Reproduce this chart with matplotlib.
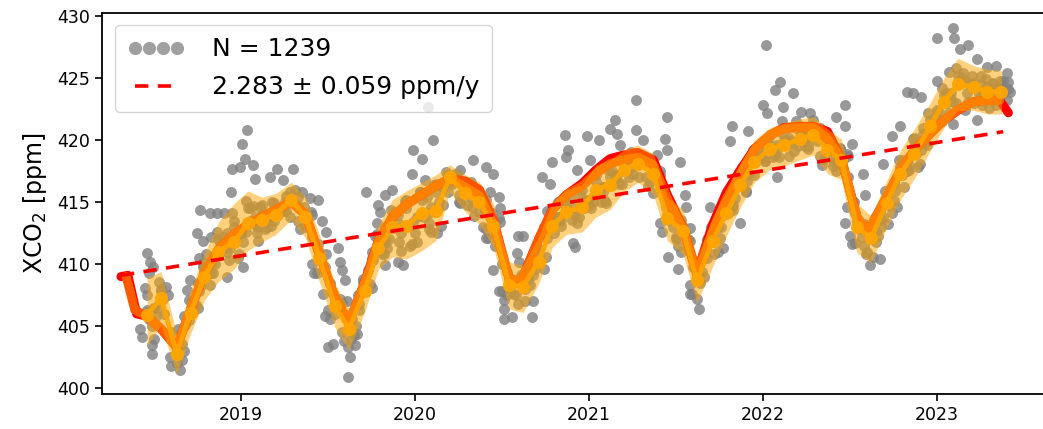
import matplotlib
matplotlib.use("Agg")
import matplotlib.pyplot as plt
from matplotlib.lines import Line2D
import numpy as np

# ---------------- data (decimal years, ppm) ----------------
n_label = "N = 1239"
trend_label = "2.283 \u00b1 0.059 ppm/y"
trend_slope = 2.283
trend_t = [2018.31, 2023.38]
trend_start = 409.1
year_ticks = [2019, 2020, 2021, 2022, 2023]
year_labels = ["2019", "2020", "2021", "2022", "2023"]
y_ticks = [400, 405, 410, 415, 420, 425, 430]

# visible / outlying soundings
gray_t = [
    2018.458, 2018.477, 2018.496, 2018.47, 2018.458, 2018.47, 2018.487, 2018.487, 2018.50, 2018.52,
    2018.54, 2018.56, 2018.60, 2018.63, 2018.65, 2018.64, 2018.66, 2018.688, 2018.707, 2018.70,
    2018.72, 2018.73,
    2018.745, 2018.764, 2018.78, 2018.76, 2018.764, 2018.78, 2018.80, 2018.82, 2018.86, 2018.90,
    2018.83, 2018.85, 2018.86, 2018.88, 2018.917, 2018.92, 2018.937, 2018.94, 2018.947, 2018.96,
    2018.98, 2018.994, 2019.004, 2019.02, 2019.033, 2019.013, 2019.03, 2019.05, 2019.07, 2019.08,
    2019.09, 2019.10, 2019.12, 2019.14, 2019.167, 2019.18, 2019.19, 2019.205,
    2019.22, 2019.243, 2019.26, 2019.28, 2019.30, 2019.31, 2019.33, 2019.35, 2019.37, 2019.397,
    2019.41, 2019.435, 2019.444, 2019.464, 2019.473, 2019.48, 2019.49, 2019.50, 2019.51, 2019.53,
    2019.54, 2019.56, 2019.57, 2019.58, 2019.60, 2019.607, 2019.617, 2019.626, 2019.617, 2019.63,
    2019.64, 2019.655, 2019.665, 2019.68, 2019.70, 2019.72, 2019.73,
    2019.75, 2019.77, 2019.78, 2019.79, 2019.80, 2019.81, 2019.83, 2019.83, 2019.85, 2019.866,
    2019.88, 2019.90, 2019.93, 2019.92, 2019.95, 2019.97, 2019.98, 2019.99, 2020.01, 2020.03,
    2020.04, 2020.06, 2020.077, 2020.08, 2020.09, 2020.105, 2020.12, 2020.125, 2020.14, 2020.16,
    2020.18, 2020.19,
    2020.21, 2020.23, 2020.25, 2020.26, 2020.28, 2020.30, 2020.32, 2020.335, 2020.35, 2020.37,
    2020.39, 2020.41, 2020.41, 2020.43, 2020.45, 2020.45, 2020.46, 2020.48, 2020.49, 2020.48,
    2020.50, 2020.51, 2020.51, 2020.53, 2020.556, 2020.56, 2020.585, 2020.59, 2020.60, 2020.62,
    2020.63, 2020.65, 2020.67, 2020.68, 2020.69, 2020.71,
    2020.73, 2020.74, 2020.76, 2020.776, 2020.79, 2020.80, 2020.82, 2020.84, 2020.86, 2020.87,
    2020.88, 2020.89, 2020.91, 2020.92, 2020.93, 2020.94, 2020.96, 2020.99, 2021.006, 2021.02,
    2021.04, 2021.06, 2021.08, 2021.10, 2021.12, 2021.13, 2021.15, 2021.16, 2021.18, 2021.19,
    2021.22, 2021.24, 2021.27, 2021.27, 2021.29, 2021.31, 2021.33, 2021.35, 2021.37, 2021.39,
    2021.41, 2021.436, 2021.446, 2021.446, 2021.456, 2021.46, 2021.48, 2021.50, 2021.513, 2021.52,
    2021.53, 2021.55, 2021.56, 2021.58, 2021.58, 2021.60, 2021.62, 2021.63, 2021.64, 2021.66,
    2021.68, 2021.695,
    2021.72, 2021.74, 2021.77, 2021.78, 2021.81, 2021.82, 2021.83, 2021.85, 2021.87, 2021.88,
    2021.90, 2021.914, 2021.93, 2021.95, 2021.97, 2022.00, 2022.01, 2022.017, 2022.02, 2022.04,
    2022.06, 2022.07, 2022.08, 2022.10, 2022.107, 2022.117, 2022.13, 2022.15, 2022.174, 2022.19,
    2022.20,
    2022.22, 2022.24, 2022.26, 2022.27, 2022.29, 2022.31, 2022.33, 2022.35, 2022.38, 2022.40,
    2022.42, 2022.44, 2022.47, 2022.47, 2022.48, 2022.47, 2022.49, 2022.51, 2022.52, 2022.53,
    2022.55, 2022.576, 2022.586, 2022.60, 2022.615, 2022.63, 2022.65, 2022.67, 2022.68, 2022.69,
    2022.69,
    2022.71, 2022.72, 2022.74, 2022.75, 2022.77, 2022.79, 2022.80, 2022.81, 2022.83, 2022.84,
    2022.86, 2022.87, 2022.89, 2022.91, 2022.92, 2022.94, 2022.997, 2023.00, 2023.01, 2023.03,
    2023.05, 2023.07, 2023.09, 2023.09, 2023.10, 2023.11, 2023.13, 2023.14, 2023.16, 2023.18,
    2023.19, 2023.21, 2023.23, 2023.23, 2023.25, 2023.27, 2023.285, 2023.30, 2023.32, 2023.34,
    2023.36, 2023.38, 2023.40, 2023.41, 2023.42,
]
gray_v = [
    410.9, 410.2, 409.8, 409.3, 406.3, 405.6, 403.5, 402.8, 404.0, 406.5,
    407.8, 406.0, 404.5, 402.0, 401.5, 404.8, 403.6, 407.9, 408.7, 405.5,
    407.0, 406.3,
    412.5, 414.35, 411.9, 410.5, 408.2, 409.8, 410.8, 414.1, 414.1, 414.1,
    412.2, 410.0, 410.9, 411.8, 409.0, 412.5, 411.3, 415.8, 417.7, 413.0,
    410.5, 417.85, 419.7, 418.5, 420.8, 409.8, 412.6, 414.5, 418.0, 416.9,
    413.0, 411.9, 414.8, 412.8, 417.0, 415.0, 413.5, 417.7,
    414.5, 416.8, 415.5, 413.8, 417.7, 416.0, 414.6, 415.8, 413.0, 415.3,
    412.2, 409.3, 415.2, 413.5, 407.6, 405.8, 412.6, 403.3, 408.5, 403.6,
    406.0, 411.3, 410.2, 409.5, 408.7, 407.0, 403.3, 402.5, 400.9, 404.0,
    405.6, 403.5, 404.4, 406.3, 408.6, 415.8, 409.5,
    410.5, 412.3, 413.3, 414.8, 414.2, 410.8, 415.6, 409.9, 412.0, 416.0,
    414.2, 410.2, 409.9, 412.5, 415.2, 411.5, 417.3, 419.2, 413.8, 415.8,
    418.5, 416.8, 422.7, 412.8, 414.6, 420.0, 416.5, 412.5, 415.0, 416.2,
    417.4, 415.8,
    416.5, 417.3, 415.0, 417.6, 416.0, 414.8, 416.6, 418.4, 415.6, 414.2,
    413.0, 417.85, 412.1, 415.8, 417.3, 409.5, 411.5, 415.4, 414.5, 407.8,
    410.0, 406.4, 405.6, 407.5, 405.75, 408.8, 410.9, 412.3, 410.2, 412.3,
    407.0, 409.0, 405.75, 407.0, 409.6, 411.2,
    417.0, 413.0, 414.3, 416.5, 418.25, 412.5, 415.0, 413.6, 420.4, 418.65,
    419.2, 415.4, 411.7, 411.4, 417.6, 413.8, 416.0, 420.3, 418.4, 415.0,
    417.2, 420.0, 416.2, 414.9, 420.9, 417.5, 421.6, 420.5, 419.6, 416.5,
    417.8, 419.0, 423.2, 420.8, 417.0, 420.0, 418.5, 416.6, 415.7, 418.8,
    417.2, 420.1, 421.9, 419.2, 410.6, 414.6, 413.0, 412.0, 409.65, 418.25,
    411.0, 415.6, 414.6, 411.9, 407.6, 409.8, 407.2, 406.4, 408.5, 410.5,
    412.0, 414.6,
    410.8, 413.0, 411.3, 415.2, 419.9, 421.1, 414.8, 416.8, 413.3, 417.8,
    415.9, 420.7, 418.8, 417.2, 419.5, 422.8, 418.3, 427.7, 422.2, 420.4,
    418.6, 424.0, 417.0, 424.7, 421.5, 422.7, 420.0, 418.7, 423.8, 421.5,
    419.5,
    422.3, 420.6, 419.3, 422.2, 421.6, 419.9, 421.0, 418.5, 420.2, 417.9,
    421.9, 419.4, 422.8, 421.1, 414.6, 413.3, 417.0, 419.7, 415.0, 411.7,
    412.8, 417.3, 415.6, 411.0, 409.9, 410.6, 411.8, 410.45, 413.0, 413.8,
    418.1,
    415.6, 413.2, 420.3, 416.5, 414.6, 421.1, 418.4, 416.2, 423.9, 418.0,
    423.8, 420.2, 417.8, 423.5, 421.0, 419.6, 424.8, 428.2, 422.3, 421.5,
    423.8, 425.5, 429.0, 421.3, 428.2, 423.0, 427.3, 425.0, 422.4, 427.66,
    424.5, 423.0, 426.5, 421.6, 425.2, 423.2, 425.9, 422.6, 424.6, 426.0,
    423.5, 424.8, 425.4, 424.7, 423.9,
]

# soundings in the dense core (mostly hidden under the band)
core_t = [
    2018.43, 2018.45, 2018.47, 2018.49, 2018.51, 2018.53, 2018.55, 2018.57, 2018.60, 2018.62,
    2018.64, 2018.66, 2018.68, 2018.70, 2018.72, 2018.74, 2018.76, 2018.78, 2018.80, 2018.82,
    2018.84, 2018.86, 2018.88, 2018.90, 2018.93, 2018.95, 2018.97, 2018.99, 2019.01, 2019.03,
    2019.05, 2019.07, 2019.09, 2019.11, 2019.13, 2019.15, 2019.17, 2019.19, 2019.21, 2019.23,
    2019.26, 2019.28, 2019.30, 2019.32, 2019.34, 2019.36, 2019.38, 2019.40, 2019.42, 2019.44,
    2019.46, 2019.48, 2019.51, 2019.53, 2019.55, 2019.57, 2019.59, 2019.61, 2019.63, 2019.65,
    2019.68, 2019.70, 2019.72, 2019.74, 2019.76, 2019.78, 2019.80, 2019.82, 2019.84, 2019.86,
    2019.88, 2019.90, 2019.92, 2019.94, 2019.96, 2019.98, 2020.01, 2020.03, 2020.05, 2020.07,
    2020.09, 2020.11, 2020.13, 2020.15, 2020.17, 2020.19, 2020.21, 2020.23, 2020.26, 2020.28,
    2020.30, 2020.32, 2020.34, 2020.36, 2020.38, 2020.40, 2020.42, 2020.44, 2020.46, 2020.48,
    2020.51, 2020.53, 2020.55, 2020.57, 2020.59, 2020.61, 2020.63, 2020.65, 2020.68, 2020.70,
    2020.72, 2020.74, 2020.76, 2020.78, 2020.80, 2020.82, 2020.84, 2020.86, 2020.88, 2020.90,
    2020.93, 2020.95, 2020.97, 2020.99, 2021.01, 2021.03, 2021.05, 2021.07, 2021.09, 2021.11,
    2021.13, 2021.15, 2021.17, 2021.19, 2021.21, 2021.23, 2021.25, 2021.27, 2021.29, 2021.31,
    2021.34, 2021.36, 2021.38, 2021.40, 2021.42, 2021.44, 2021.46, 2021.48, 2021.51, 2021.53,
    2021.55, 2021.57, 2021.59, 2021.61, 2021.63, 2021.65, 2021.68, 2021.70, 2021.72, 2021.74,
    2021.76, 2021.78, 2021.80, 2021.82, 2021.84, 2021.86, 2021.88, 2021.90, 2021.92, 2021.94,
    2021.96, 2021.98, 2022.01, 2022.03, 2022.05, 2022.07, 2022.09, 2022.11, 2022.13, 2022.15,
    2022.18, 2022.20, 2022.22, 2022.24, 2022.26, 2022.28, 2022.30, 2022.32, 2022.34, 2022.36,
    2022.38, 2022.40, 2022.42, 2022.44, 2022.46, 2022.48, 2022.51, 2022.53, 2022.55, 2022.57,
    2022.59, 2022.61, 2022.63, 2022.65, 2022.68, 2022.70, 2022.72, 2022.74, 2022.76, 2022.78,
    2022.80, 2022.82, 2022.84, 2022.86, 2022.88, 2022.90, 2022.93, 2022.95, 2022.97, 2022.99,
    2023.01, 2023.03, 2023.05, 2023.07, 2023.09, 2023.11, 2023.13, 2023.15, 2023.18, 2023.20,
    2023.22, 2023.24, 2023.26, 2023.28, 2023.30, 2023.32, 2023.34, 2023.36, 2023.38, 2023.40,
]
core_v = [
    404.1, 408.1, 406.2, 405.0, 405.8, 408.6, 407.2, 408.2, 401.8, 403.6,
    402.7, 402.3, 405.1, 407.1, 406.1, 406.7, 407.8, 410.1, 409.0, 408.3,
    409.3, 412.6, 411.0, 412.2, 410.3, 414.1, 412.2, 410.8, 411.8, 415.1,
    413.5, 414.7, 412.5, 414.6, 413.6, 413.0, 413.1, 414.9, 414.0, 414.5,
    414.3, 415.8, 415.1, 414.8, 412.8, 414.6, 413.7, 414.2, 409.3, 411.6,
    410.5, 409.8, 405.6, 407.6, 406.6, 407.2, 403.8, 405.6, 404.7, 404.3,
    406.8, 408.8, 407.8, 408.4, 410.3, 412.4, 411.4, 410.8, 411.3, 414.4,
    412.9, 414.0, 411.1, 415.1, 413.1, 411.6, 411.8, 415.8, 413.8, 415.4,
    412.6, 416.4, 414.5, 413.1, 416.5, 417.2, 416.9, 416.8, 414.9, 416.4,
    415.7, 415.4, 413.9, 415.8, 414.9, 414.4, 412.1, 414.1, 413.1, 413.7,
    407.1, 409.4, 408.3, 407.6, 406.8, 409.1, 408.0, 408.7, 409.1, 411.4,
    410.3, 409.6, 412.1, 414.2, 413.2, 413.8, 413.1, 415.2, 414.2, 413.6,
    413.3, 415.6, 414.5, 415.2, 414.5, 417.2, 415.9, 415.0, 415.1, 417.6,
    416.4, 417.2, 416.5, 418.4, 417.5, 417.0, 417.3, 418.8, 418.1, 418.4,
    416.3, 418.1, 417.2, 416.8, 412.6, 414.6, 413.6, 414.2, 411.5, 413.6,
    412.6, 412.0, 407.6, 409.8, 408.7, 409.4, 410.5, 413.0, 411.8, 411.0,
    413.0, 415.1, 414.1, 414.7, 415.3, 417.4, 416.4, 415.8, 417.3, 419.2,
    418.3, 418.8, 418.3, 420.2, 419.3, 418.8, 418.6, 420.6, 419.6, 420.2,
    419.1, 420.9, 420.0, 419.5, 419.5, 421.1, 420.3, 420.8, 418.0, 420.1,
    419.1, 418.5, 417.5, 419.3, 418.4, 418.9, 411.6, 414.1, 412.9, 412.2,
    410.8, 413.1, 412.0, 412.7, 413.6, 415.9, 414.8, 414.1, 415.9, 418.4,
    417.2, 418.0, 417.6, 420.1, 418.9, 418.1, 419.8, 422.2, 421.0, 421.8,
    421.7, 424.2, 423.0, 422.2, 423.1, 425.8, 424.5, 425.4, 423.1, 425.2,
    424.2, 423.6, 422.8, 424.9, 423.9, 424.5, 422.8, 424.8, 423.8, 423.2,
]
core2_t = [
    2018.42, 2018.46, 2018.50, 2018.50, 2018.54, 2018.58, 2018.59, 2018.63, 2018.67, 2018.67,
    2018.71, 2018.75, 2018.75, 2018.79, 2018.83, 2018.83, 2018.87, 2018.91, 2018.92, 2018.96,
    2019.00, 2019.00, 2019.04, 2019.08, 2019.08, 2019.12, 2019.16, 2019.16, 2019.20, 2019.24,
    2019.25, 2019.29, 2019.33, 2019.33, 2019.37, 2019.41, 2019.41, 2019.45, 2019.49, 2019.50,
    2019.54, 2019.58, 2019.58, 2019.62, 2019.66, 2019.67, 2019.71, 2019.75, 2019.75, 2019.79,
    2019.83, 2019.83, 2019.87, 2019.91, 2019.91, 2019.95, 2019.99, 2020.00, 2020.04, 2020.08,
    2020.08, 2020.12, 2020.16, 2020.16, 2020.20, 2020.24, 2020.25, 2020.29, 2020.33, 2020.33,
    2020.37, 2020.41, 2020.41, 2020.45, 2020.49, 2020.50, 2020.54, 2020.58, 2020.58, 2020.62,
    2020.66, 2020.67, 2020.71, 2020.75, 2020.75, 2020.79, 2020.83, 2020.83, 2020.87, 2020.91,
    2020.92, 2020.96, 2021.00, 2021.00, 2021.04, 2021.08, 2021.08, 2021.12, 2021.16, 2021.16,
    2021.20, 2021.24, 2021.24, 2021.28, 2021.32, 2021.33, 2021.37, 2021.41, 2021.41, 2021.45,
    2021.49, 2021.50, 2021.54, 2021.58, 2021.58, 2021.62, 2021.66, 2021.67, 2021.71, 2021.75,
    2021.75, 2021.79, 2021.83, 2021.83, 2021.87, 2021.91, 2021.91, 2021.95, 2021.99, 2022.00,
    2022.04, 2022.08, 2022.08, 2022.12, 2022.16, 2022.17, 2022.21, 2022.25, 2022.25, 2022.29,
    2022.33, 2022.33, 2022.37, 2022.41, 2022.41, 2022.45, 2022.49, 2022.50, 2022.54, 2022.58,
    2022.58, 2022.62, 2022.66, 2022.67, 2022.71, 2022.75, 2022.75, 2022.79, 2022.83, 2022.83,
    2022.87, 2022.91, 2022.92, 2022.96, 2023.00, 2023.00, 2023.04, 2023.08, 2023.08, 2023.12,
    2023.16, 2023.17, 2023.21, 2023.25, 2023.25, 2023.29, 2023.33, 2023.33, 2023.37, 2023.41,
]
core2_v = [
    404.8, 407.5, 406.5, 406.5, 408.0, 407.5, 402.5, 403.0, 403.0, 405.8,
    406.5, 406.5, 408.5, 409.5, 409.3, 410.0, 412.0, 411.3, 411.0, 413.5,
    412.5, 412.5, 414.5, 413.8, 413.2, 414.0, 413.9, 413.8, 414.3, 414.3,
    415.0, 415.2, 415.4, 413.5, 414.0, 414.0, 410.0, 411.0, 410.8, 406.3,
    407.0, 406.9, 404.5, 405.0, 405.0, 407.5, 408.2, 408.1, 411.0, 411.8,
    411.7, 412.0, 413.8, 413.2, 411.8, 414.5, 413.4, 412.5, 415.2, 414.1,
    413.3, 415.8, 414.8, 416.2, 416.6, 417.2, 415.6, 415.8, 416.0, 414.6,
    415.2, 415.2, 412.8, 413.5, 413.4, 407.8, 408.8, 408.6, 407.5, 408.5,
    408.3, 409.8, 410.8, 410.6, 412.8, 413.6, 413.5, 413.8, 414.6, 414.5,
    414.0, 415.0, 414.8, 415.2, 416.6, 416.2, 415.8, 417.0, 416.7, 417.2,
    417.8, 417.8, 418.0, 418.2, 418.4, 417.0, 417.5, 417.5, 413.3, 414.0,
    414.0, 412.2, 413.0, 412.9, 408.3, 409.2, 409.0, 411.2, 412.4, 412.1,
    413.7, 414.5, 414.4, 416.0, 416.8, 416.7, 418.0, 418.6, 418.6, 419.0,
    419.6, 419.6, 419.3, 420.0, 419.9, 419.8, 420.3, 420.3, 420.2, 420.5,
    420.6, 418.7, 419.5, 419.4, 418.2, 418.7, 418.7, 412.3, 413.5, 413.2,
    411.5, 412.5, 412.3, 414.3, 415.3, 415.1, 416.6, 417.8, 417.5, 418.3,
    419.5, 419.2, 420.5, 421.6, 421.4, 422.4, 423.6, 423.3, 423.8, 425.2,
    424.8, 423.8, 424.6, 424.5, 423.5, 424.3, 424.2, 423.5, 424.2, 424.1,
]

month_t = [
    2018.46, 2018.54, 2018.63, 2018.71, 2018.79, 2018.87, 2018.96, 2019.04, 2019.12, 2019.20,
    2019.29, 2019.37, 2019.45, 2019.54, 2019.62, 2019.71, 2019.79, 2019.87, 2019.95, 2020.04,
    2020.12, 2020.20, 2020.29, 2020.37, 2020.45, 2020.54, 2020.62, 2020.71, 2020.79, 2020.87,
    2020.96, 2021.04, 2021.12, 2021.20, 2021.28, 2021.37, 2021.45, 2021.54, 2021.62, 2021.71,
    2021.79, 2021.87, 2021.95, 2022.04, 2022.12, 2022.21, 2022.29, 2022.37, 2022.45, 2022.54,
    2022.62, 2022.71, 2022.79, 2022.87, 2022.96, 2023.04, 2023.12, 2023.21, 2023.29, 2023.37,
]
month_mean = [
    405.9, 407.3, 402.8, 406.1, 409.0, 411.0, 411.8, 413.3, 413.6, 414.0,
    415.2, 413.8, 410.5, 406.6, 404.8, 407.8, 411.3, 413.0, 413.1, 414.1,
    414.3, 417.0, 415.7, 415.0, 413.1, 408.3, 408.2, 410.2, 413.1, 414.2,
    414.6, 416.0, 416.4, 417.6, 418.1, 417.3, 413.7, 412.7, 408.7, 411.9,
    414.1, 416.4, 418.2, 419.3, 419.6, 420.1, 420.4, 419.2, 418.4, 413.0,
    412.1, 414.9, 417.3, 418.9, 421.1, 423.1, 424.5, 424.3, 423.9, 423.9,
]
month_lo = [
    403.4, 405.1, 401.1, 404.4, 407.1, 408.6, 409.6, 411.1, 411.8, 412.4,
    413.6, 412.1, 408.6, 404.9, 403.1, 406.1, 409.6, 410.6, 410.4, 411.1,
    411.9, 415.8, 414.2, 413.2, 411.4, 406.4, 406.1, 408.4, 411.4, 412.4,
    412.6, 413.8, 414.4, 415.8, 416.6, 415.6, 411.9, 410.8, 406.9, 409.8,
    412.3, 414.6, 416.6, 417.6, 417.9, 418.4, 418.8, 417.3, 416.8, 410.9,
    410.1, 412.9, 415.2, 416.9, 419.1, 421.0, 422.4, 422.4, 422.1, 422.1,
]
month_hi = [
    408.9, 409.4, 404.4, 407.9, 410.9, 413.4, 414.9, 415.9, 415.4, 415.7,
    416.6, 415.4, 412.4, 408.4, 406.4, 409.6, 413.2, 415.2, 415.9, 416.6,
    417.2, 418.0, 417.2, 416.6, 414.9, 410.2, 409.9, 412.2, 415.0, 416.0,
    416.4, 418.0, 418.4, 419.2, 419.6, 418.9, 415.4, 414.4, 410.6, 413.8,
    415.9, 418.2, 420.0, 421.0, 421.4, 421.7, 421.9, 420.9, 420.1, 414.9,
    413.9, 416.7, 419.2, 420.9, 423.0, 425.0, 426.6, 426.0, 425.7, 425.6,
]

red_t = [
    2018.31, 2018.35, 2018.40, 2018.46, 2018.54, 2018.63, 2018.71, 2018.79, 2018.87, 2018.96,
    2019.04, 2019.12, 2019.20, 2019.29, 2019.37, 2019.45, 2019.54, 2019.62, 2019.71, 2019.79,
    2019.87, 2019.95, 2020.04, 2020.12, 2020.20, 2020.29, 2020.37, 2020.45, 2020.54, 2020.58,
    2020.62, 2020.71, 2020.79, 2020.87, 2020.96, 2021.04, 2021.12, 2021.20, 2021.28, 2021.37,
    2021.45, 2021.54, 2021.62, 2021.71, 2021.79, 2021.87, 2021.95, 2022.04, 2022.12, 2022.21,
    2022.29, 2022.37, 2022.45, 2022.54, 2022.60, 2022.71, 2022.79, 2022.87, 2022.96, 2023.04,
    2023.12, 2023.21, 2023.29, 2023.36, 2023.41,
]
red_v = [
    409.0, 409.1, 406.0, 405.8, 404.8, 403.3, 406.3, 409.3, 411.2, 412.4,
    413.2, 413.8, 414.4, 415.0, 414.0, 410.8, 407.3, 405.3, 408.5, 411.9,
    413.8, 414.8, 415.6, 416.3, 416.9, 416.7, 416.0, 413.6, 408.9, 408.5,
    409.0, 412.0, 414.4, 415.6, 416.5, 417.6, 418.5, 418.8, 419.0, 418.4,
    415.6, 413.0, 409.3, 413.2, 415.8, 417.6, 419.3, 420.4, 421.0, 421.1,
    421.1, 420.7, 418.5, 413.8, 412.6, 415.4, 417.6, 419.2, 420.5, 421.6,
    422.4, 423.1, 423.2, 423.2, 422.2,
]

ored_t = [
    2018.34, 2018.39, 2018.46, 2018.54, 2018.63, 2018.71, 2018.79, 2018.87, 2018.96,
    2019.04, 2019.12, 2019.20, 2019.29, 2019.37, 2019.45, 2019.54, 2019.62, 2019.71, 2019.79,
    2019.87, 2019.95, 2020.04, 2020.12, 2020.20, 2020.29, 2020.37, 2020.45, 2020.54, 2020.58,
    2020.62, 2020.71, 2020.79, 2020.87, 2020.96, 2021.04, 2021.12, 2021.20, 2021.28, 2021.37,
    2021.45, 2021.54, 2021.62, 2021.71, 2021.79, 2021.87, 2021.95, 2022.04, 2022.12, 2022.21,
    2022.29, 2022.37, 2022.45, 2022.54, 2022.60, 2022.71, 2022.79, 2022.87, 2022.96, 2023.04,
    2023.12, 2023.21, 2023.29, 2023.36,
]
ored_v = [
    409.0, 406.3, 405.8, 404.8, 403.3, 406.3, 409.3, 411.2, 412.4,
    413.2, 413.8, 414.4, 415.0, 414.0, 410.8, 407.3, 405.3, 408.5, 411.9,
    413.8, 414.8, 415.6, 416.3, 416.9, 416.2, 415.5, 413.2, 408.9, 408.5,
    409.0, 412.0, 414.4, 415.6, 416.3, 417.3, 418.1, 418.4, 418.6, 418.0,
    415.3, 412.8, 409.1, 412.6, 415.3, 417.3, 419.2, 420.4, 420.9, 421.0,
    421.0, 420.1, 418.5, 413.8, 412.6, 415.4, 417.6, 419.2, 420.5, 421.6,
    422.4, 423.1, 423.2, 423.2,
]

# ---------------- figure ----------------
W, H = 1043, 429
fig = plt.figure(figsize=(W / 100, H / 100), dpi=100)
ax = fig.add_axes([102 / W, 1 - 394 / H, (1048 - 102) / W, (394 - 12.5) / H])

ax.scatter(gray_t + core_t + core2_t, gray_v + core_v + core2_v, s=62,
           color="gray", alpha=0.8, linewidths=0, zorder=1)
ax.plot(red_t, red_v, color="red", lw=6.5, solid_capstyle="round",
        solid_joinstyle="round", zorder=2)
ax.plot(ored_t, ored_v, color="#ff5a00", lw=6.5, solid_capstyle="round",
        solid_joinstyle="round", zorder=3)
ax.fill_between(month_t, month_lo, month_hi, color="orange", alpha=0.5,
                linewidth=0, zorder=4)
ax.plot(month_t, month_mean, color="orange", lw=3.5, marker="o", ms=8.5,
        alpha=0.9, zorder=5)
tt = np.array(trend_t)
trend_line, = ax.plot(tt, trend_start + trend_slope * (tt - tt[0]), color="red",
                      lw=2.6, linestyle=(0, (3.7, 2.6)), zorder=6)

ax.set_xlim(2018.201, 2018.201 + (1048 - 102) / 174.0)
ax.set_ylim(399.54, 430.28)
ax.set_xticks(year_ticks)
ax.set_xticklabels(year_labels)
ax.set_yticks(y_ticks)
ax.tick_params(labelsize=12.5, length=5, width=1.2)
for s in ax.spines.values():
    s.set_linewidth(1.3)
ax.set_ylabel("XCO$_2$ [ppm]", fontsize=17, labelpad=6)

gray_handle = Line2D([], [], linestyle="none", marker="o", markersize=9.5,
                     markerfacecolor="gray", markeredgewidth=0, alpha=0.75)
ax.legend([gray_handle, trend_line], [n_label, trend_label], loc="upper left",
          fontsize=18, numpoints=4, borderaxespad=0.5, handlelength=2.3,
          handletextpad=1.1, borderpad=0.5, labelspacing=0.55)

fig.savefig("out.png", dpi=100)
